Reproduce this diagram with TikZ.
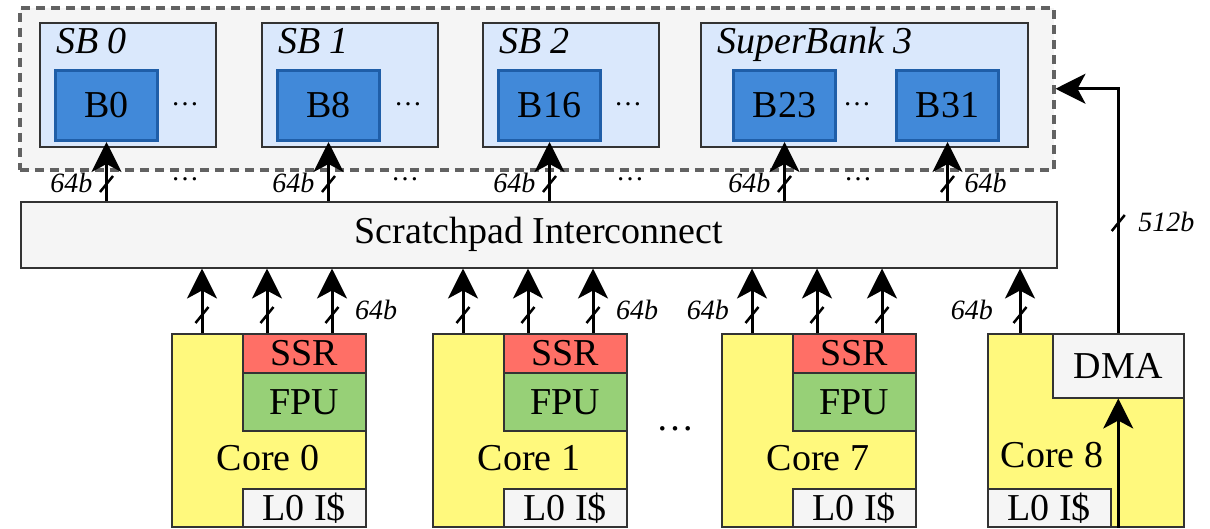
\documentclass[tikz,border=0pt]{standalone}
\usepackage{fontspec}
\setmainfont{Liberation Serif}
\usetikzlibrary{arrows.meta,calc,positioning}

\definecolor{panelgray}{HTML}{F5F5F5}
\definecolor{dashgray}{HTML}{626262}
\definecolor{sbfill}{HTML}{DAE8FC}
\definecolor{bankfill}{HTML}{4189D9}
\definecolor{bankline}{HTML}{1F5EA8}
\definecolor{corefill}{HTML}{FFF97D}
\definecolor{ssrfill}{HTML}{FF6F66}
\definecolor{fpufill}{HTML}{97D077}
\definecolor{boxline}{HTML}{333333}

\begin{document}
\begin{tikzpicture}[x=1pt, y=-1pt, >={Stealth[length=30pt,width=30pt,inset=8pt]},
  box/.style={draw=boxline, line width=1.5pt, anchor=north west, inner sep=0pt, font=\fontsize{38}{40}\selectfont},
  bankbox/.style={box, draw=bankline, line width=3pt, fill=bankfill, minimum width=102pt, minimum height=70pt},
  txt/.style={font=\fontsize{38}{40}\selectfont, inner sep=0pt},
  bus/.style={->, line width=3pt},
  slash/.style={line width=2.5pt},
  bits/.style={font=\fontsize{28}{30}\selectfont\itshape, inner sep=0pt},
  dots/.style={font=\fontsize{28}{30}\selectfont, inner sep=0pt, anchor=base}]

  \useasboundingbox (0,0) rectangle (1210,528);

  % Scratchpad memory
  \node[box, draw=dashgray, line width=3.5pt, dash pattern=on 9pt off 6pt, fill=panelgray,
        minimum width=1034pt, minimum height=162pt] (spm) at (18,6) {};

  % SuperBanks
  \foreach \n/\x/\w/\t in {0/39/176pt/SB 0, 1/261/176pt/SB 1, 2/482/176pt/SB 2, 3/700/327pt/SuperBank 3} {
    \node[box, fill=sbfill, minimum width=\w, minimum height=124pt] (sb\n) at (\x,22) {};
    \node[txt, anchor=base west, font=\fontsize{38}{40}\selectfont\itshape] (sb\n-lbl)
      at ($(sb\n.north west)+(17,31)$) {\t};
  }

  % Banks
  \foreach \b/\x in {0/54, 8/276, 16/497, 23/732, 31/895}
    \node[bankbox] (b\b) at (\x,69) {B\b};
  \foreach \x [count=\k] in {185,408,628,857}
    \node[dots] (bdots\k) at (\x,105) {…};

  % Interconnect
  \node[box, fill=panelgray, minimum width=1036pt, minimum height=66pt] (ic) at (20,201) {Scratchpad Interconnect};

  % Interconnect -> banks
  \foreach \b in {0,8,16,23,31} {
    \coordinate (ic-b\b) at (b\b.south |- ic.north);
    \draw[bus] (ic-b\b) -- (b\b.south);
    \draw[slash] ($(ic-b\b)+(-6.5,-9)$) -- ($(ic-b\b)+(6.5,-25)$);
  }
  \foreach \b in {0,8,16,23}
    \node[bits, anchor=east] (w-b\b) at ($(ic-b\b)+(-14,-18)$) {64b};
  \node[bits, anchor=west] (w-b31) at ($(ic-b31)+(17,-18)$) {64b};
  \foreach \x [count=\k] in {185,405,630,858}
    \node[dots] (tdots\k) at (\x,180) {…};

  % Cores 0, 1, 7
  \foreach \c/\x in {0/171, 1/432, 7/721} {
    \node[box, fill=corefill, minimum width=194pt, minimum height=193pt] (core\c) at (\x,333) {};
    \node[box, fill=ssrfill, minimum width=123pt, minimum height=39pt] (ssr\c) at ($(core\c.north west)+(71,0)$) {SSR};
    \node[box, fill=fpufill, minimum width=123pt, minimum height=58pt] (fpu\c) at ($(core\c.north west)+(71,39)$) {FPU};
    \node[box, fill=panelgray, minimum width=123pt, minimum height=38pt] (l0-\c) at ($(core\c.north west)+(71,155)$) {L0 I\$};
    \node[txt] (core\c-lbl) at ($(core\c.north west)+(97,125)$) {Core \c};
    \foreach \dx [count=\k] in {31,96,161} {
      \coordinate (p\c-\k) at ($(core\c.north west)+(\dx,0)$);
      \draw[bus] (p\c-\k) -- (p\c-\k |- ic.south);
      \draw[slash] ($(p\c-\k)+(-6.5,-10)$) -- ($(p\c-\k)+(6.5,-26)$);
    }
  }
  \node[bits, anchor=west] (w-c0) at ($(p0-3)+(23,-23)$) {64b};
  \node[bits, anchor=west] (w-c1) at ($(p1-3)+(23,-23)$) {64b};
  \node[bits, anchor=east] (w-c7) at ($(p7-1)+(-23,-23)$) {64b};
  \node[dots, font=\fontsize{38}{40}\selectfont] (cdots) at (675,430) {…};

  % Core 8 with DMA
  \node[box, fill=corefill, minimum width=196pt, minimum height=193pt] (core8) at (987,333) {};
  \node[box, fill=panelgray, minimum width=131pt, minimum height=64pt] (dma) at (1052,333) {DMA};
  \node[box, fill=panelgray, minimum width=123pt, minimum height=38pt] (l0-8) at (987,488) {L0 I\$};
  \node[txt] (core8-lbl) at (1052,455) {Core 8};
  \coordinate (p8) at ($(core8.north west)+(33,0)$);
  \draw[bus] (p8) -- (p8 |- ic.south);
  \draw[slash] ($(p8)+(-6.5,-10)$) -- ($(p8)+(6.5,-26)$);
  \node[bits, anchor=east] (w-c8) at ($(p8)+(-27,-23)$) {64b};

  % DMA paths
  \coordinate (dma-in) at (dma.south |- core8.south);
  \draw[bus] (dma-in) -- (dma.south);
  \draw[bus] (dma.north) |- (spm.east);
  \coordinate (dma-cut) at ($(dma.north)+(0,-110)$);
  \draw[slash] ($(dma-cut)+(-6.5,8)$) -- ($(dma-cut)+(6.5,-8)$);
  \node[bits, anchor=west] (w-dma) at ($(dma-cut)+(20,-1)$) {512b};

\end{tikzpicture}
\end{document}
